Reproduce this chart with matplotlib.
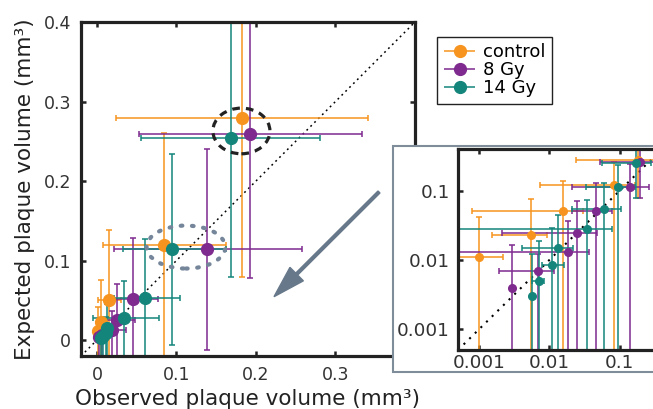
import matplotlib

matplotlib.use("Agg")

import matplotlib.pyplot as plt
import numpy as np
from matplotlib.container import ErrorbarContainer
from matplotlib.legend_handler import HandlerErrorbar
from matplotlib.patches import Ellipse, FancyArrow, Rectangle

plt.rcParams["font.family"] = ["DejaVu Sans"]

# observed (x) vs expected (y) plaque volume, mm^3, with min/max ranges
ctrl_x = [0.001, 0.0054, 0.0155, 0.084, 0.1825]
ctrl_y = [0.011, 0.023, 0.051, 0.119, 0.279]
ctrl_x_lo = [0.0004, 0.0015, 0.0008, 0.0073, 0.024]
ctrl_x_hi = [0.0022, 0.0093, 0.030, 0.1625, 0.341]
ctrl_y_lo = [-0.05, -0.05, -0.05, -0.05, 0.079]
ctrl_y_hi = [0.042, 0.075, 0.138, 0.26, 0.48]

gy8_x = [0.0029, 0.0068, 0.0184, 0.025, 0.046, 0.138, 0.193]
gy8_y = [0.0039, 0.0069, 0.0128, 0.0247, 0.0517, 0.114, 0.259]
gy8_x_lo = [0.0029, 0.0019, 0.0004, 0.0021, 0.021, 0.021, 0.053]
gy8_x_hi = [0.0029, 0.0117, 0.037, 0.048, 0.077, 0.258, 0.333]
gy8_y_lo = [-0.05, -0.05, -0.05, -0.05, -0.05, -0.0126, 0.0776]
gy8_y_hi = [0.0165, 0.012, 0.037, 0.071, 0.129, 0.24, 0.48]

gy14_x = [0.0057, 0.0071, 0.011, 0.0132, 0.034, 0.060, 0.095, 0.169]
gy14_y = [0.003, 0.0049, 0.0085, 0.0148, 0.0277, 0.0535, 0.114, 0.2545]
gy14_x_lo = [0.0057, 0.0057, 0.0078, 0.0041, -0.005, 0.021, 0.033, 0.056]
gy14_x_hi = [0.0057, 0.0085, 0.016, 0.022, 0.078, 0.105, 0.1625, 0.281]
gy14_y_lo = [-0.05, -0.05, -0.05, -0.05, -0.05, -0.05, -0.006, 0.079]
gy14_y_hi = [0.012, 0.019, 0.029, 0.045, 0.074, 0.127, 0.234, 0.48]

labels = ["control", "8 Gy", "14 Gy"]
colors = ["#f7941f", "#7e2a8e", "#14857b"]

series = [
    (ctrl_x, ctrl_y, ctrl_x_lo, ctrl_x_hi, ctrl_y_lo, ctrl_y_hi),
    (gy8_x, gy8_y, gy8_x_lo, gy8_x_hi, gy8_y_lo, gy8_y_hi),
    (gy14_x, gy14_y, gy14_x_lo, gy14_x_hi, gy14_y_lo, gy14_y_hi),
]

INK = "#222222"
TICK_TEXT = "#333333"


def draw_points(ax, markersize, capsize):
    for (x, y, xlo, xhi, ylo, yhi), color in zip(series, colors):
        x = np.asarray(x)
        y = np.asarray(y)
        xerr = [x - np.asarray(xlo), np.asarray(xhi) - x]
        yerr = [y - np.asarray(ylo), np.asarray(yhi) - y]
        ax.errorbar(
            x, y, xerr=xerr, yerr=yerr,
            fmt="o", color=color, markersize=markersize,
            elinewidth=1.1, capsize=capsize, capthick=1.1,
        )


def style_frame(ax, fontsize, pad):
    for spine in ax.spines.values():
        spine.set_linewidth(2.3)
        spine.set_color(INK)
    ax.tick_params(
        which="major", direction="in", length=3.5, width=1.8,
        top=True, right=True, labelsize=fontsize, pad=pad,
        color=INK, labelcolor=TICK_TEXT,
    )
    ax.tick_params(which="minor", length=0)


fig = plt.figure(figsize=(6.53, 4.09), dpi=100)

# main linear panel
ax = fig.add_axes([81 / 653, 53 / 409, 334 / 653, 334 / 409])
ax.plot([-0.02, 0.4], [-0.02, 0.4], color="black", lw=1.1,
        linestyle=(0, (1.2, 2.4)), zorder=1)
draw_points(ax, markersize=8.5, capsize=2.5)
ax.add_patch(Ellipse((0.1817, 0.263), 0.0717, 0.0574, fill=False,
                     edgecolor=INK, lw=2.3, linestyle=(0, (2.4, 1.9)), zorder=5))
ax.add_patch(Ellipse((0.112, 0.117), 0.099, 0.054, fill=False,
                     edgecolor="#75869a", lw=3.0, linestyle=(0, (0.4, 2.3)),
                     capstyle="round", zorder=5))
ax.set_xlim(-0.02, 0.4)
ax.set_ylim(-0.02, 0.4)
ax.set_xticks([0, 0.1, 0.2, 0.3], ["0", "0.1", "0.2", "0.3"])
ax.set_yticks([0, 0.1, 0.2, 0.3, 0.4], ["0", "0.1", "0.2", "0.3", "0.4"])
style_frame(ax, 12.5, 7)
ax.set_xlabel("Observed plaque volume (mm³)", fontsize=15.5, color=INK, labelpad=4)
ax.set_ylabel("Expected plaque volume (mm³)", fontsize=15.5, color=INK, labelpad=6)

# white panel behind the log-scale inset
fig.add_artist(Rectangle((393 / 653, 37 / 409), 0.45, 226 / 409,
                         transform=fig.transFigure, facecolor="white",
                         edgecolor="#7f8c99", lw=1.5, zorder=1))

# arrow pointing from the inset to the low-volume cluster
fig.add_artist(FancyArrow(3.79, 2.17, -1.05, -1.047, width=0.028,
                          head_width=0.19, head_length=0.32,
                          length_includes_head=True, color="#66788a",
                          transform=fig.dpi_scale_trans, zorder=1))

# log-log inset
ins = fig.add_axes([458 / 653, 59 / 409, 204 / 653, 201 / 409], zorder=2)
ins.set_xscale("log")
ins.set_yscale("log")
ins.plot([0.0005, 0.4], [0.0005, 0.4], color="black", lw=1.5,
         linestyle=(0, (1, 2.8)), zorder=1)
draw_points(ins, markersize=5.5, capsize=2)
ins.set_xlim(0.0005, 0.4)
ins.set_ylim(0.0005, 0.4)
ins.set_xticks([0.001, 0.01, 0.1], ["0.001", "0.01", "0.1"])
ins.set_yticks([0.001, 0.01, 0.1], ["0.001", "0.01", "0.1"])
style_frame(ins, 13.3, 3)
ins.tick_params(axis="y", pad=6)

# legend shows only the horizontal range bar
handles = []
for label, color in zip(labels, colors):
    cont = ax.errorbar([], [], xerr=[], fmt="o", color=color, markersize=8.5,
                       elinewidth=1.1, capsize=4, capthick=1.3, label=label)
    handles.append(cont)
leg = fig.legend(
    handles=handles, labels=labels, loc="upper left",
    bbox_to_anchor=(437 / 653, 1 - 37 / 409), fontsize=13,
    handler_map={ErrorbarContainer: HandlerErrorbar(xerr_size=0.85)},
    fancybox=False, edgecolor=INK, framealpha=1, borderpad=0.35,
    labelspacing=0.0, handlelength=1.8, handletextpad=0.4, borderaxespad=0,
)
leg.get_frame().set_linewidth(1.0)

fig.savefig("out.png", dpi=100)
